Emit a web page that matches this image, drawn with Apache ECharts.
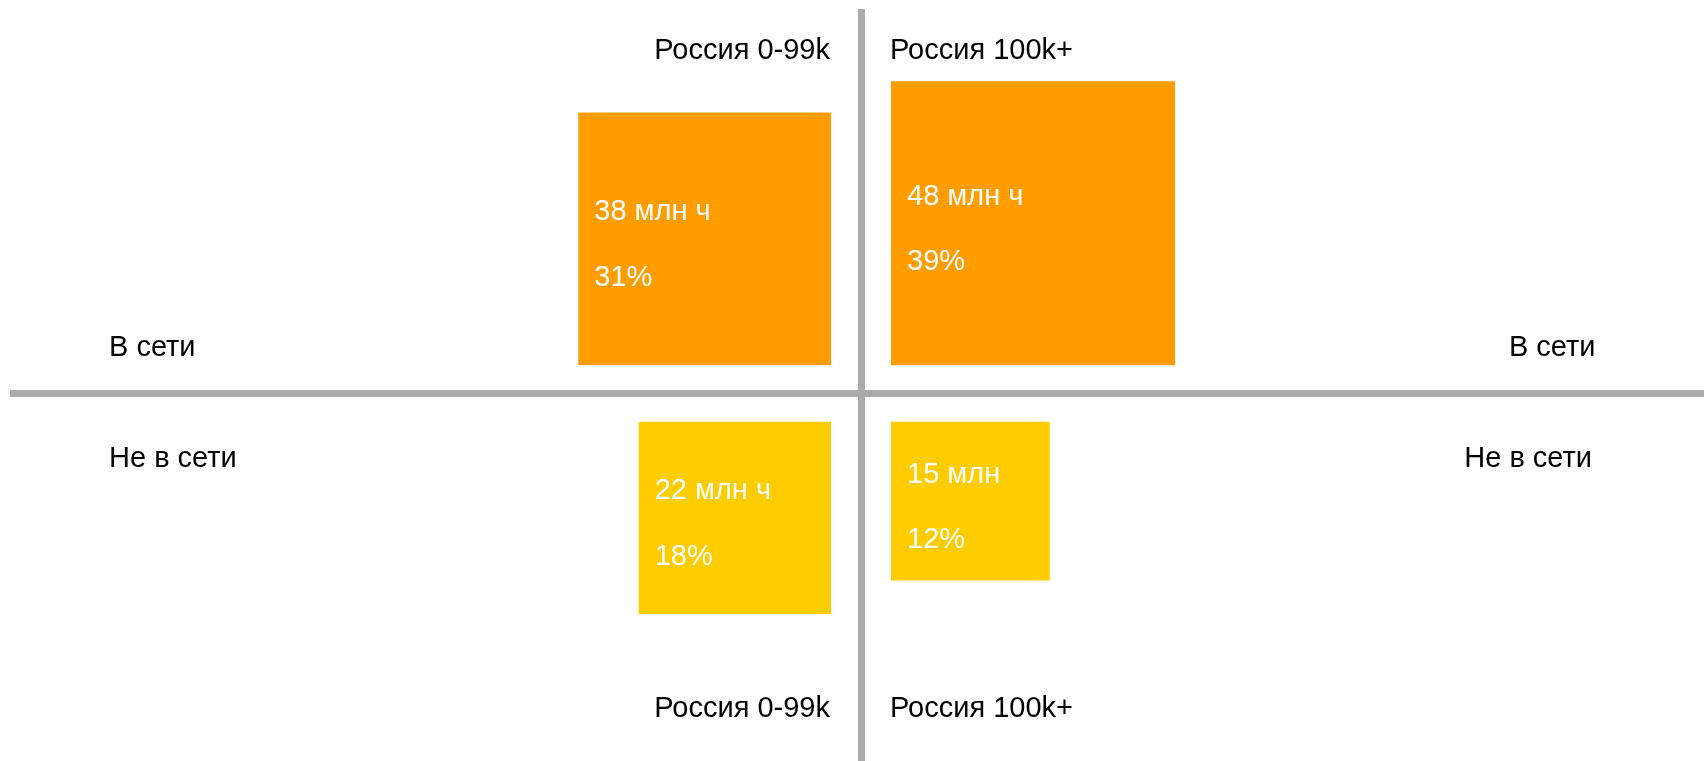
<!DOCTYPE html>
<html>
<head>
<meta charset="utf-8">
<script src="https://cdn.jsdelivr.net/npm/echarts@6/dist/echarts.min.js"></script>
<style>
  html, body { margin: 0; padding: 0; background: #fff; }
  #chart { width: 1704px; height: 761px; }
</style>
</head>
<body>
<div id="chart"></div>
<script>
// columns (left / right of the vertical line) and rows (above / below the horizontal line)
let columnNames = ['Россия 0-99k', 'Россия 100k+'];
let rowNames = ['В сети', 'Не в сети'];

// one square per quadrant: column index, row index, hours (mln), share (%)
let cellColumn = [0, 1, 0, 1];
let cellRow = [0, 0, 1, 1];
let hours = [38, 48, 22, 15];
let hourUnits = ['млн ч', 'млн ч', 'млн ч', 'млн'];
let shares = [31, 39, 18, 12];

let rowColors = ['#ff9d00', '#ffcc00'];

// layout
let W = 1704, H = 761;
let gridLeft = 10, gridTop = 9;
let centerX = 861, centerY = 393.5;
let pxPerUnit = 41;          // pixels per sqrt(mln h), so square area ~ hours
let gapX = 30 / pxPerUnit;
let gapY = 28.3 / pxPerUnit;
let font = '"Liberation Sans", Arial, sans-serif';

let chart = echarts.init(document.getElementById('chart'));

let data = hours.map(function (v, i) {
  return {
    value: [cellColumn[i] === 0 ? -1 : 1, cellRow[i] === 0 ? 1 : -1, v, shares[i], i],
    itemStyle: {color: rowColors[cellRow[i]]}
  };
});

function renderItem(params, api) {
  let i = api.value(4);
  let side = Math.sqrt(api.value(2));
  let x0 = api.value(0) < 0 ? -gapX - side : gapX;
  let yTop = api.value(1) > 0 ? gapY + side : -gapY;
  let p = api.coord([x0, yTop]);
  let size = api.size([side, side]);
  let midY = p[1] + size[1] / 2;
  return {
    type: 'group',
    children: [
      {
        type: 'rect',
        shape: {x: p[0], y: p[1], width: size[0], height: size[1]},
        style: {fill: api.visual('color')}
      },
      {
        type: 'text',
        x: p[0] + 16,
        y: midY - 26.5,
        style: {
          text: hours[i] + ' ' + hourUnits[i],
          fill: '#fff', font: '29px ' + font, verticalAlign: 'middle', align: 'left'
        }
      },
      {
        type: 'text',
        x: p[0] + 16,
        y: midY + 39,
        style: {
          text: shares[i] + '%',
          fill: '#fff', font: '29px ' + font, verticalAlign: 'middle', align: 'left'
        }
      }
    ]
  };
}

function label(text, x, y, align) {
  return {
    type: 'text', x: x, y: y, silent: true,
    style: {text: text, fill: '#000', font: '29px ' + font, align: align, verticalAlign: 'middle'}
  };
}

let axisLineStyle = {color: '#aaaaaa', width: 7, cap: 'butt'};

let option = {
  animation: false,
  backgroundColor: '#fff',
  grid: {left: gridLeft, top: gridTop, right: 0, bottom: 0},
  xAxis: {
    type: 'value',
    min: -(centerX - gridLeft) / pxPerUnit,
    max: (W - centerX) / pxPerUnit,
    axisLine: {onZero: true, lineStyle: axisLineStyle},
    axisTick: {show: false},
    axisLabel: {show: false},
    splitLine: {show: false}
  },
  yAxis: {
    type: 'value',
    min: -(H - centerY) / pxPerUnit,
    max: (centerY - gridTop) / pxPerUnit,
    axisLine: {onZero: true, lineStyle: axisLineStyle},
    axisTick: {show: false},
    axisLabel: {show: false},
    splitLine: {show: false}
  },
  series: [{
    type: 'custom',
    renderItem: renderItem,
    data: data,
    z: 1
  }],
  graphic: [
    label(columnNames[0], 830, 51, 'right'),
    label(columnNames[1], 890, 51, 'left'),
    label(columnNames[0], 830, 708.5, 'right'),
    label(columnNames[1], 890, 708.5, 'left'),
    label(rowNames[0], 109, 347.5, 'left'),
    label(rowNames[1], 109, 459.2, 'left'),
    label(rowNames[0], 1595.5, 347.5, 'right'),
    label(rowNames[1], 1592, 459.2, 'right')
  ]
};

chart.setOption(option);
</script>
</body>
</html>
